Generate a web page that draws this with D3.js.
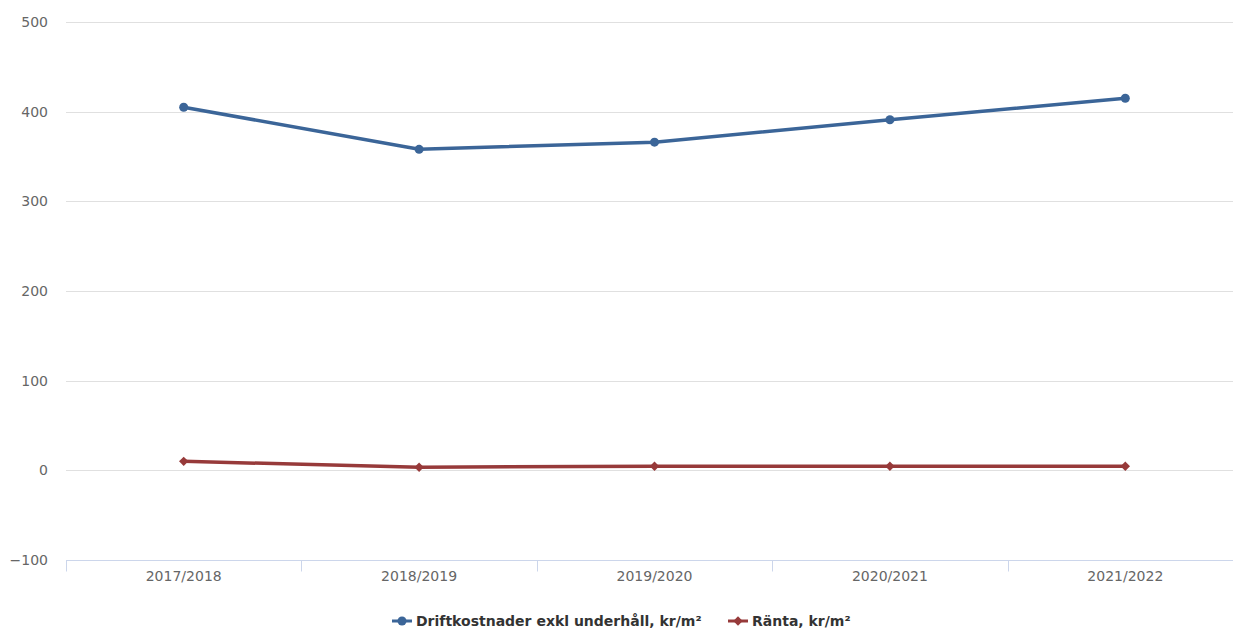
<!DOCTYPE html>
<html>
<head>
<meta charset="utf-8">
<script src="https://cdn.jsdelivr.net/npm/d3@7"></script>
<style>
  html, body { margin: 0; padding: 0; background: #fff; }
  svg { display: block; }
</style>
</head>
<body>
<svg id="chart" width="1233" height="629"></svg>
<script>
// Categories (fiscal years)
const years = ["2017/2018", "2018/2019", "2019/2020", "2020/2021", "2021/2022"];
// Operating costs excl. maintenance, kr/m²
const driftkostnader = [405, 358, 366, 391, 415];
// Interest, kr/m²
const ranta = [10, 3.5, 4.5, 4.5, 4.5];
// Y axis ticks
const yTicks = [-100, 0, 100, 200, 300, 400, 500];

const series = [
  { name: "Driftkostnader exkl underhåll, kr/m²", values: driftkostnader, color: "#3b6598", marker: "circle" },
  { name: "Ränta, kr/m²", values: ranta, color: "#973a3a", marker: "diamond" }
];

const W = 1233, H = 629;
const margin = { left: 66, right: -10, top: 22, bottom: 69 };
const svg = d3.select("#chart");

const x = d3.scaleBand().domain(years).range([margin.left, W - margin.right]);
const y = d3.scaleLinear().domain([-100, 500]).range([H - margin.bottom, margin.top]);

const tickFont = "Verdana, 'DejaVu Sans', sans-serif";

// Horizontal gridlines
svg.append("g")
  .selectAll("line")
  .data(yTicks.filter(t => t !== -100))
  .join("line")
  .attr("x1", margin.left).attr("x2", W)
  .attr("y1", d => Math.round(y(d)) + 0.5).attr("y2", d => Math.round(y(d)) + 0.5)
  .attr("stroke", "#e0e0e0").attr("stroke-width", 1);

// Y axis labels
const yAxis = d3.axisLeft(y).tickValues(yTicks).tickSize(0).tickPadding(0)
  .tickFormat(d => d < 0 ? "\u2212" + Math.abs(d) : String(d));
const yg = svg.append("g").attr("transform", `translate(${48},0)`).call(yAxis);
yg.select(".domain").remove();
yg.selectAll("text").attr("fill", "#666").style("font-family", tickFont).style("font-size", "14px");

// X axis
const xAxis = d3.axisBottom(x).tickSize(0).tickPadding(11);
const xg = svg.append("g").attr("transform", `translate(0,${Math.round(y(-100)) + 0.5})`).call(xAxis);
xg.select(".domain").attr("stroke", "#ccd6eb").attr("d", `M${margin.left},0H${W}`);
xg.selectAll("text").attr("fill", "#666").style("font-family", tickFont).style("font-size", "14px");
// Band boundary ticks
const bounds = years.map(d => x(d)).concat([x(years[years.length - 1]) + x.bandwidth()]);
xg.append("g").selectAll("line").data(bounds).join("line")
  .attr("x1", d => Math.round(d) + 0.5).attr("x2", d => Math.round(d) + 0.5)
  .attr("y1", 0).attr("y2", 11)
  .attr("stroke", "#ccd6eb");

const cx = d => x(d) + x.bandwidth() / 2;

// Lines and markers
const line = d3.line().x((v, i) => cx(years[i])).y(v => y(v));
series.forEach(s => {
  svg.append("path")
    .datum(s.values)
    .attr("d", line)
    .attr("fill", "none")
    .attr("stroke", s.color)
    .attr("stroke-width", 3.5)
    .attr("stroke-linejoin", "round");
  const sym = d3.symbol()
    .type(s.marker === "circle" ? d3.symbolCircle : d3.symbolDiamond2)
    .size(s.marker === "circle" ? 64 : 56);
  svg.append("g").selectAll("path").data(s.values).join("path")
    .attr("transform", (v, i) => `translate(${cx(years[i])},${y(v)})`)
    .attr("d", sym)
    .attr("fill", s.color);
});

// Legend
const legend = svg.append("g").attr("transform", "translate(0,621)");
const legendItems = [
  { s: series[0], x: 392 },
  { s: series[1], x: 728 }
];
legendItems.forEach(({ s, x: lx }) => {
  const g = legend.append("g").attr("transform", `translate(${lx},0)`);
  g.append("line").attr("x1", 0).attr("x2", 20).attr("y1", 0).attr("y2", 0)
    .attr("stroke", s.color).attr("stroke-width", 3);
  g.append("path").attr("transform", "translate(10,0)")
    .attr("d", d3.symbol().type(s.marker === "circle" ? d3.symbolCircle : d3.symbolDiamond2).size(s.marker === "circle" ? 64 : 56)())
    .attr("fill", s.color);
  g.append("text").attr("x", 24).attr("y", 0).attr("dy", "0.35em")
    .attr("fill", "#333")
    .style("font-family", tickFont).style("font-size", "14px").style("font-weight", "bold")
    .text(s.name);
});
</script>
</body>
</html>
